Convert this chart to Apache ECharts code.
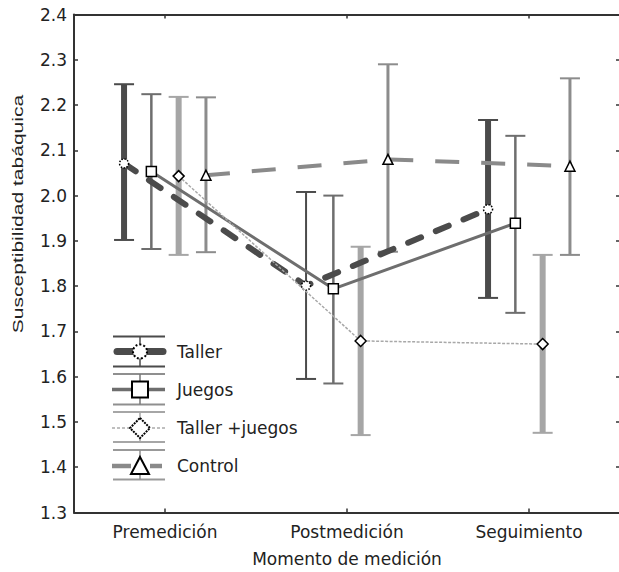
<!DOCTYPE html>
<html>
<head>
<meta charset="utf-8">
<script src="https://cdn.jsdelivr.net/npm/echarts@6/dist/echarts.min.js"></script>
<style>
html,body{margin:0;padding:0;background:#fff;}
#chart{width:619px;height:572px;}
</style>
</head>
<body>
<div id="chart"></div>
<script>
// ---- data ----
const categories = ['Premedición', 'Postmedición', 'Seguimiento'];
const seriesNames = ['Taller', 'Juegos', 'Taller +juegos', 'Control'];
const yTickLabels = ['1.3','1.4','1.5','1.6','1.7','1.8','1.9','2.0','2.1','2.2','2.3','2.4'];

const tallerMean = [2.071, 1.801, 1.970];
const tallerHigh = [2.246, 2.008, 2.167];
const tallerLow  = [1.902, 1.595, 1.774];

const juegosMean = [2.053, 1.794, 1.939];
const juegosHigh = [2.224, 2.000, 2.132];
const juegosLow  = [1.882, 1.585, 1.741];

const tjMean = [2.043, 1.679, 1.672];
const tjHigh = [2.218, 1.887, 1.869];
const tjLow  = [1.869, 1.471, 1.476];

const controlMean = [2.045, 2.080, 2.065];
const controlHigh = [2.217, 2.290, 2.259];
const controlLow  = [1.875, 1.876, 1.869];

// ---- layout / style (not data) ----
const groupOffsets = [-0.225, -0.075, 0.075, 0.225];
const FONT = '"DejaVu Sans", sans-serif';

const styles = [
  { color: '#4b4b4b', barColor: '#4b4b4b', barWidths: [6, 2, 6], lineWidth: 6, lineType: [14, 16], cap: 'round', symbol: 'circle', symbolSize: 9, borderType: 'dotted' },
  { color: '#6e6e6e', barColor: '#6e6e6e', barWidths: [2.5, 2.5, 2.5], lineWidth: 3, lineType: 'solid', cap: 'butt', symbol: 'rect', symbolSize: 10, borderType: 'solid' },
  { color: '#a8a8a8', barColor: '#a6a6a6', barWidths: [6, 6, 6], lineWidth: 1.5, lineType: [3, 1.5], cap: 'butt', symbol: 'diamond', symbolSize: 11, borderType: 'solid' },
  { color: '#8a8a8a', barColor: '#8c8c8c', barWidths: [3, 3, 3], lineWidth: 4, lineType: [24, 22], cap: 'butt', symbol: 'triangle', symbolSize: 10, borderType: 'solid' }
];

const means = [tallerMean, juegosMean, tjMean, controlMean];
const highs = [tallerHigh, juegosHigh, tjHigh, controlHigh];
const lows  = [tallerLow, juegosLow, tjLow, controlLow];

const series = [];
seriesNames.forEach((name, s) => {
  const st = styles[s];
  series.push({
    name: name + ' IC',
    type: 'custom',
    xAxisIndex: 2,
    yAxisIndex: 0,
    z: 2,
    silent: true,
    data: categories.map((c, i) => [i + groupOffsets[s], lows[s][i], highs[s][i]]),
    encode: { x: 0, y: [1, 2] },
    renderItem: function (params, api) {
      const x = api.value(0);
      const lo = api.coord([x, api.value(1)]);
      const hi = api.coord([x, api.value(2)]);
      const w = st.barWidths[params.dataIndex];
      const half = 10;
      return {
        type: 'group',
        children: [
          { type: 'line', shape: { x1: hi[0], y1: hi[1], x2: lo[0], y2: lo[1] }, style: { stroke: st.barColor, lineWidth: w } },
          { type: 'line', shape: { x1: hi[0] - half, y1: hi[1], x2: hi[0] + half, y2: hi[1] }, style: { stroke: st.barColor, lineWidth: 2 } },
          { type: 'line', shape: { x1: lo[0] - half, y1: lo[1], x2: lo[0] + half, y2: lo[1] }, style: { stroke: st.barColor, lineWidth: 2 } }
        ]
      };
    }
  });
});
seriesNames.forEach((name, s) => {
  const st = styles[s];
  series.push({
    name: name,
    type: 'line',
    xAxisIndex: 2,
    yAxisIndex: 0,
    z: 3 + s,
    silent: true,
    data: categories.map((c, i) => [i + groupOffsets[s], means[s][i]]),
    symbol: st.symbol,
    symbolSize: st.symbolSize,
    showSymbol: true,
    lineStyle: { color: st.color, width: st.lineWidth, type: st.lineType, cap: st.cap },
    itemStyle: { color: '#ffffff', borderColor: '#000000', borderWidth: 1.5, borderType: st.borderType },
    animation: false
  });
});

// ---- legend drawn as graphic ----
function legendBlock(cy, capTop, capBot, capColor, vColor, middle, marker, label) {
  return [
    { type: 'line', shape: { x1: 113, y1: capTop, x2: 165, y2: capTop }, style: { stroke: capColor, lineWidth: 2 } },
    { type: 'line', shape: { x1: 113, y1: capBot, x2: 165, y2: capBot }, style: { stroke: capColor, lineWidth: 2 } },
    { type: 'line', shape: { x1: 140, y1: capTop, x2: 140, y2: capBot }, style: { stroke: vColor, lineWidth: 1.5 } }
  ].concat(middle).concat([marker, {
    type: 'text', x: 177, y: cy,
    style: { text: label, font: '17px ' + FONT, fill: '#222', textAlign: 'left', textVerticalAlign: 'middle' }
  }]);
}

const legendChildren = [].concat(
  legendBlock(351.5, 336.5, 366.5, '#4b4b4b', '#4b4b4b',
    [{ type: 'line', shape: { x1: 117, y1: 351.5, x2: 163, y2: 351.5 }, style: { stroke: '#4b4b4b', lineWidth: 7, lineCap: 'round' } }],
    { type: 'circle', shape: { cx: 140, cy: 351.5, r: 7 }, style: { fill: '#fff', stroke: '#000', lineWidth: 2, lineDash: [2, 2] } },
    seriesNames[0]),
  legendBlock(389.5, 374, 404.5, '#8f8f8f', '#777', 
    [{ type: 'line', shape: { x1: 112, y1: 389.5, x2: 165, y2: 389.5 }, style: { stroke: '#6e6e6e', lineWidth: 3.5 } }],
    { type: 'rect', shape: { x: 132, y: 381.5, width: 16, height: 16 }, style: { fill: '#fff', stroke: '#000', lineWidth: 2 } },
    seriesNames[1]),
  legendBlock(428, 412, 442, '#a6a6a6', '#a6a6a6',
    [{ type: 'line', shape: { x1: 112, y1: 428, x2: 165, y2: 428 }, style: { stroke: '#aaaaaa', lineWidth: 1.5, lineDash: [3, 2] } }],
    { type: 'polygon', shape: { points: [[140, 418], [150, 428], [140, 438], [130, 428]] }, style: { fill: '#fff', stroke: '#000', lineWidth: 2, lineDash: [2, 1] } },
    seriesNames[2]),
  legendBlock(466, 450, 479.5, '#999999', '#8c8c8c',
    [
      { type: 'line', shape: { x1: 112, y1: 466, x2: 131, y2: 466 }, style: { stroke: '#8a8a8a', lineWidth: 4.5 } },
      { type: 'line', shape: { x1: 150, y1: 466, x2: 162, y2: 466 }, style: { stroke: '#8a8a8a', lineWidth: 4.5 } }
    ],
    { type: 'polygon', shape: { points: [[140, 457], [149, 474], [131, 474]] }, style: { fill: '#fff', stroke: '#000', lineWidth: 2 } },
    seriesNames[3])
);

const axisLineStyle = { color: '#333', width: 2 };

const option = {
  animation: false,
  backgroundColor: '#ffffff',
  grid: { left: 74, top: 14.5, width: 546, height: 498, containLabel: false, outerBoundsMode: 'none' },
  xAxis: [
    {
      type: 'category', data: categories, position: 'bottom', boundaryGap: true,
      axisLine: { show: true, onZero: false, lineStyle: axisLineStyle },
      axisTick: { show: true, inside: true, length: 4, alignWithLabel: true, lineStyle: { color: '#333', width: 1.5 } },
      axisLabel: { color: '#222', fontFamily: FONT, fontSize: 17, margin: 11 },
      splitLine: { show: false },
      name: 'Momento de medición', nameLocation: 'middle', nameGap: 38,
      nameTextStyle: { color: '#222', fontFamily: FONT, fontSize: 17 }
    },
    {
      type: 'category', data: categories, position: 'top', boundaryGap: true,
      axisLine: { show: true, onZero: false, lineStyle: axisLineStyle },
      axisTick: { show: true, inside: true, length: 4, alignWithLabel: true, lineStyle: { color: '#333', width: 1.5 } },
      axisLabel: { show: false },
      splitLine: { show: false }
    },
    { type: 'value', min: -0.5, max: 2.5, show: false, axisLine: { onZero: false } }
  ],
  yAxis: [
    {
      type: 'value', min: 1.3, max: 2.4, interval: 0.1, position: 'left',
      axisLine: { show: true, onZero: false, lineStyle: axisLineStyle },
      axisTick: { show: true, inside: true, length: 4, lineStyle: { color: '#333', width: 1.5 } },
      axisLabel: {
        color: '#222', fontFamily: FONT, fontSize: 17, margin: 7,
        formatter: function (v) { return yTickLabels[Math.round((v - 1.3) * 10)]; }
      },
      splitLine: { show: false }
    },
    {
      type: 'value', min: 1.3, max: 2.4, interval: 0.1, position: 'right',
      axisLine: { show: false, onZero: false },
      axisTick: { show: true, inside: true, length: 4, lineStyle: { color: '#333', width: 1.5 } },
      axisLabel: { show: false },
      splitLine: { show: false }
    }
  ],
  series: series,
  graphic: [
    {
      type: 'text', x: 18, y: 214, rotation: Math.PI / 2, scaleX: 1.45, scaleY: 1,
      style: { text: 'Susceptibilidad tabáquica', font: '14.5px "Liberation Sans", Arial, sans-serif', fill: '#222', textAlign: 'center', textVerticalAlign: 'middle' }
    },
    { type: 'group', children: legendChildren }
  ]
};

const chart = echarts.init(document.getElementById('chart'), null, { renderer: 'svg' });
chart.setOption(option);
</script>
</body>
</html>
